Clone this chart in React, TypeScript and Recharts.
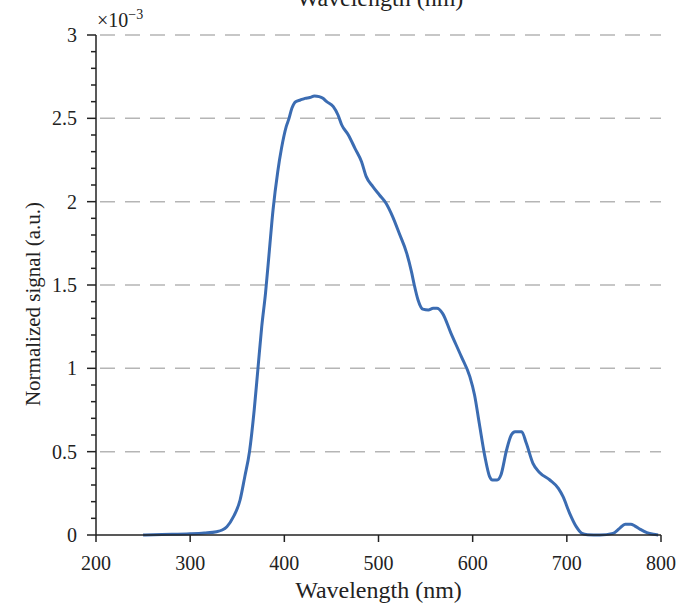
import { LineChart, Line, XAxis, YAxis, ReferenceLine } from "recharts";

// wavelength in nm
const wavelength = [
  250, 270, 300, 315, 328, 334, 339, 346, 353, 358, 363, 368, 372, 376, 380,
  384, 388, 393, 397, 402, 405, 408, 412, 417, 422, 427, 432, 437, 441, 445,
  452, 457, 461, 468, 475, 482, 487, 494, 501, 508, 515, 522, 530, 535, 538,
  542, 547, 553, 558, 562, 568, 577, 588, 597, 602, 607, 613, 618, 621, 626,
  630, 636, 641, 645, 652, 657, 664, 671, 682, 691, 696, 703, 710, 716, 722,
  735, 749, 756, 762, 768, 772, 778, 785, 792, 797,
];

// normalized signal, in units of 1e-3
const signal = [
  0, 0.003, 0.007, 0.012, 0.02, 0.03, 0.05, 0.11, 0.21, 0.35, 0.5, 0.75, 1.0,
  1.25, 1.45, 1.7, 1.95, 2.18, 2.32, 2.45, 2.5, 2.56, 2.6, 2.61, 2.62, 2.625,
  2.634, 2.63, 2.62, 2.6, 2.57, 2.52, 2.46, 2.4, 2.32, 2.24, 2.15, 2.09, 2.04,
  1.99, 1.91, 1.81, 1.69, 1.58, 1.5, 1.41, 1.355, 1.35, 1.36, 1.36, 1.33, 1.21,
  1.07, 0.95, 0.84, 0.67, 0.47, 0.35, 0.33, 0.33, 0.36, 0.51, 0.6, 0.62, 0.62,
  0.55, 0.43, 0.375, 0.33, 0.28, 0.23, 0.13, 0.05, 0.01, 0.002, 0, 0.01, 0.04,
  0.065, 0.065, 0.055, 0.034, 0.014, 0.004, 0,
];

const xTicks = [200, 300, 400, 500, 600, 700, 800];
const yMajor = [0, 0.5, 1, 1.5, 2, 2.5, 3];
const yTicks = [
  0, 0.1, 0.2, 0.3, 0.4, 0.5, 0.6, 0.7, 0.8, 0.9, 1, 1.1, 1.2, 1.3, 1.4, 1.5,
  1.6, 1.7, 1.8, 1.9, 2, 2.1, 2.2, 2.3, 2.4, 2.5, 2.6, 2.7, 2.8, 2.9, 3,
];
const gridLines = [0.5, 1, 1.5, 2, 2.5, 3];

const data = wavelength.map((w, i) => ({ w, s: signal[i] }));

const FONT = "'Liberation Serif', 'DejaVu Serif', serif";
const INK = "#222";

const YTick = (props: any) => {
  const { x, y, payload } = props;
  const v = payload.value;
  const major = yMajor.some((m) => Math.abs(m - v) < 1e-6);
  return (
    <g>
      <line x1={x - (major ? 9 : 5)} x2={x} y1={y} y2={y} stroke={INK} strokeWidth={1.5} />
      {major && (
        <text x={x - 19} y={y} dy="0.35em" textAnchor="end" fontSize={20} fontFamily={FONT} fill={INK}>
          {String(v)}
        </text>
      )}
    </g>
  );
};

export default function App() {
  return (
    <div style={{ position: "absolute", left: 0, top: 0, width: 679, height: 603, background: "#fff" }}>
      <LineChart width={679} height={603} data={data} margin={{ top: 35, right: 18, bottom: 0, left: 0 }}>
        {gridLines.map((g) => (
          <ReferenceLine key={g} y={g} stroke="#b5b5b5" strokeWidth={1.5} strokeDasharray="0 4 15 6" />
        ))}
        <XAxis
          dataKey="w"
          type="number"
          domain={[200, 800]}
          ticks={xTicks}
          interval={0}
          height={68}
          tickSize={7}
          tickMargin={14}
          axisLine={{ stroke: INK, strokeWidth: 1.5 }}
          tickLine={{ stroke: INK, strokeWidth: 1.5 }}
          tick={{ fill: INK, fontSize: 20, fontFamily: FONT }}
        />
        <YAxis
          type="number"
          domain={[0, 3]}
          ticks={yTicks}
          interval={0}
          width={96}
          tickSize={0}
          tickMargin={0}
          tickLine={false}
          axisLine={{ stroke: INK, strokeWidth: 1.5 }}
          tick={(p: any) => <YTick {...p} />}
        />
        <Line
          type="monotone"
          dataKey="s"
          stroke="#3b6cb2"
          strokeWidth={3}
          dot={false}
          isAnimationActive={false}
        />
      </LineChart>
      <svg
        width={679}
        height={603}
        style={{ position: "absolute", left: 0, top: 0, pointerEvents: "none" }}
        fontFamily={FONT}
        fill={INK}
      >
        <text x={380} y={6} textAnchor="middle" fontSize={24}>
          Wavelength (nm)
        </text>
        <text x={378.5} y={598} textAnchor="middle" fontSize={24}>
          Wavelength (nm)
        </text>
        <text x={33} y={304} textAnchor="middle" dominantBaseline="central" fontSize={21} transform="rotate(-90 33 304)">
          Normalized signal (a.u.)
        </text>
        <text x={97} y={27} fontSize={20}>
          ×10
          <tspan fontSize={14} dy={-8}>
            −3
          </tspan>
        </text>
      </svg>
    </div>
  );
}
